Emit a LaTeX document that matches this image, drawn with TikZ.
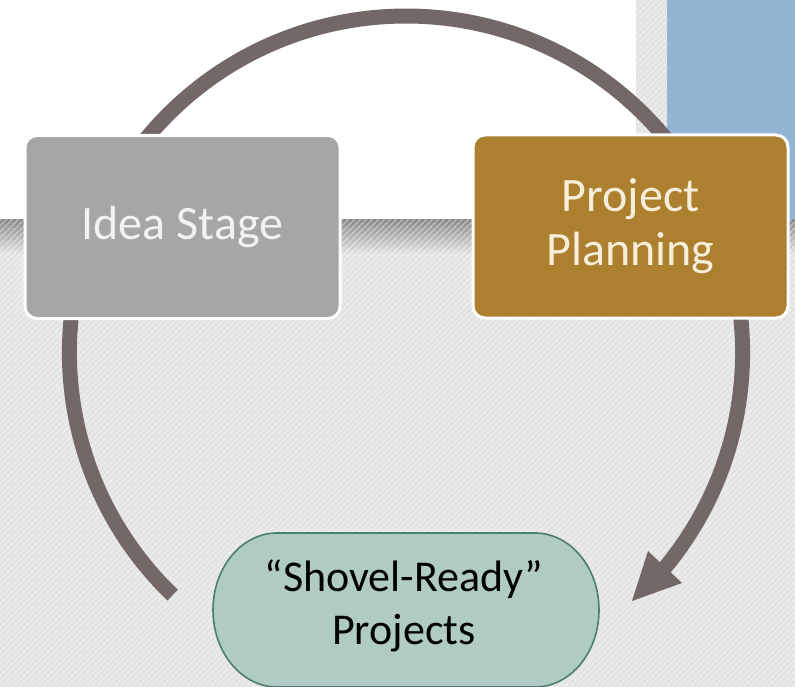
\documentclass[tikz,border=0pt]{standalone}
\usepackage{fontspec}
\setmainfont{Carlito}
\usetikzlibrary{patterns.meta}
\definecolor{bgbase}{HTML}{E3E3E3}
\definecolor{shadowdark}{HTML}{8A8A8A}
\definecolor{bluebar}{HTML}{93B4D2}
\definecolor{arcgray}{HTML}{736867}
\definecolor{ideagray}{HTML}{A6A6A6}
\definecolor{ideatext}{HTML}{F2F2F2}
\definecolor{plangold}{HTML}{AD802F}
\definecolor{plantext}{HTML}{F6EEDA}
\definecolor{ovalfill}{HTML}{B0CBC3}
\definecolor{ovaldraw}{HTML}{4B7E70}
\tikzset{
  stagebox/.style={rectangle, rounded corners=12pt, minimum width=315pt,
    minimum height=183pt, draw=white, line width=3pt, inner sep=0pt,
    align=center, font=\fontsize{48}{54}\selectfont},
  cycarc/.style={draw=arcgray, line width=15pt, line cap=butt},
  hatch/.style={pattern={Lines[angle=45,distance=4pt,line width=1.6pt]},
    pattern color=white, fill opacity=0.45}
}
\begin{document}
\begin{tikzpicture}[x=1pt,y=-1pt]
\useasboundingbox (0,0) rectangle (795,687);
% background
\fill[bgbase] (0,0) rectangle (795,687);
\fill[white] (0,0) rectangle (636,220);
\fill[bluebar] (667,0) rectangle (795,220);
\shade[top color=shadowdark, bottom color=bgbase] (0,220) rectangle (795,254);
\fill[hatch] (0,220) rectangle (795,687);
\fill[hatch] (636,0) rectangle (667,220);
% cycle arc
\coordinate (c) at (406,352.6);
\draw[cycarc] ([shift={(133.9:336.6)}]c) coordinate (arcstart)
  arc[start angle=133.9, end angle=40.6+360, radius=336.6] coordinate (arcend);
\coordinate (headA) at (648,551);
\coordinate (headB) at (682,583);
\coordinate (tip) at (632,601);
\fill[arcgray] (headA) -- (headB) -- (tip) -- cycle;
% stage boxes
\node[stagebox, fill=ideagray, text=ideatext] (idea) at (182.5,227) {Idea Stage};
\node[stagebox, fill=plangold, text=plantext] (plan) at (630.5,226.5) {Project\\Planning};
% shovel-ready oval
\fill[ovalfill, draw=ovaldraw, line width=1.6pt]
  (277,533) -- (535,533) arc[start angle=-90, end angle=90, x radius=64, y radius=77]
  -- (277,687) arc[start angle=90, end angle=270, x radius=64, y radius=77] -- cycle;
\node[align=center, font=\fontsize{44}{53}\selectfont, text=black] (shovel) at (404,606)
  {“Shovel-Ready”\\Projects};
\end{tikzpicture}
\end{document}
